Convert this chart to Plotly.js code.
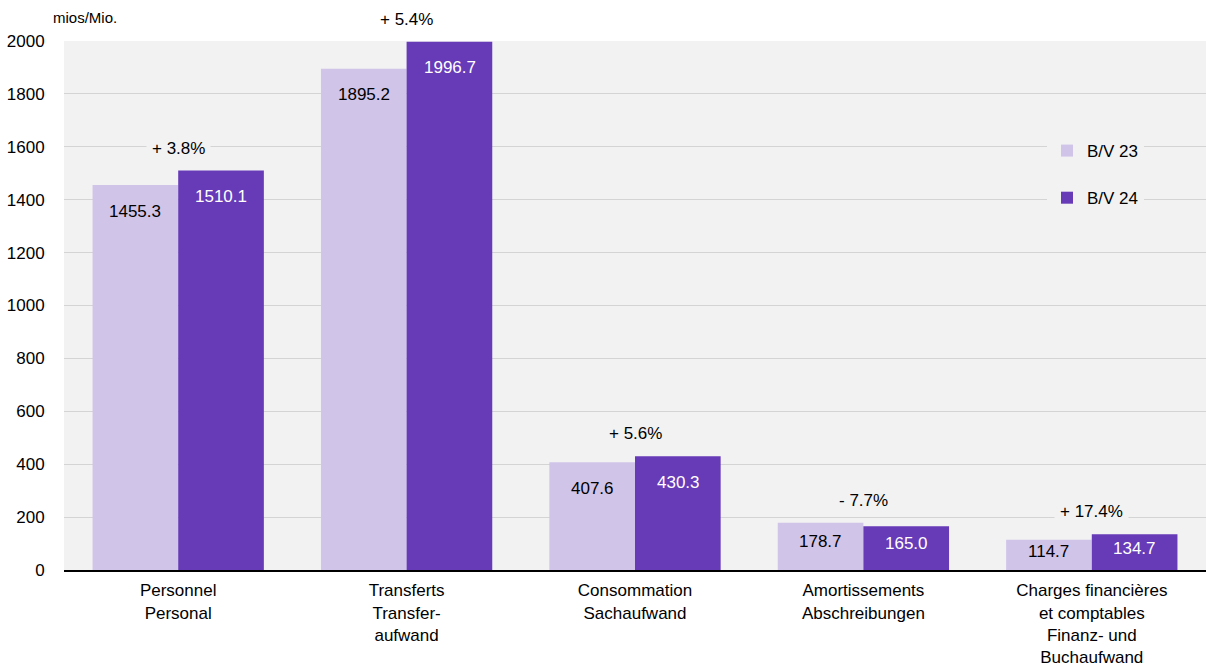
<!DOCTYPE html>
<html>
<head>
<meta charset="utf-8">
<script src="https://cdn.plot.ly/plotly-3.0.1.min.js"></script>
<style>html,body{margin:0;padding:0;background:#fff;}#chart{width:1206px;height:666px;}</style>
</head>
<body>
<div id="chart"></div>
<script>
var categories = [
  "Personnel<br>Personal",
  "Transferts<br>Transfer-<br>aufwand",
  "Consommation<br>Sachaufwand",
  "Amortissements<br>Abschreibungen",
  "Charges financières<br>et comptables<br>Finanz- und<br>Buchaufwand"
];
var bv23 = [1455.3, 1895.2, 407.6, 178.7, 114.7];
var bv24 = [1510.1, 1996.7, 430.3, 165.0, 134.7];
var changeLabels = ["+ 3.8%", "+ 5.4%", "+ 5.6%", "- 7.7%", "+ 17.4%"];
var seriesNames = ["B/V 23", "B/V 24"];
var yTicks = [0, 200, 400, 600, 800, 1000, 1200, 1400, 1600, 1800, 2000];

var FONT = "Liberation Sans, Arial, sans-serif";
var FS = 17;
var LIGHT = "#d1c4e9", DARK = "#673ab7", PLOTBG = "#f2f2f2";
var plotH = 529, yMax = 2000, pxPerUnit = plotH / yMax;

var traces = [
  {type: "bar", x: categories, y: bv23, name: seriesNames[0], legendgroup: "a",
   marker: {color: LIGHT}, hoverinfo: "none"},
  {type: "bar", x: categories, y: bv24, name: seriesNames[1], legendgroup: "b",
   marker: {color: DARK}, hoverinfo: "none"}
];

var annotations = [];
function valLabel(cat, v, shiftX, color) {
  var hpx = v * pxPerUnit;
  var off = Math.min(26, hpx * 0.4);
  return {x: cat, y: v, xref: "x", yref: "y", text: v.toFixed(1), showarrow: false,
          xshift: shiftX, yshift: -off, yanchor: "middle",
          font: {family: FONT, size: FS, color: color}};
}
for (var i = 0; i < categories.length; i++) {
  annotations.push(valLabel(categories[i], bv23[i], -43, "#000"));
  annotations.push(valLabel(categories[i], bv24[i], 43, "#fff"));
  var groupMax = Math.max(bv23[i], bv24[i]);
  annotations.push({x: categories[i], y: groupMax, xref: "x", yref: "y", text: changeLabels[i],
    showarrow: false, yanchor: "bottom", yshift: 7,
    bgcolor: groupMax >= yMax * 0.99 ? "rgba(0,0,0,0)" : PLOTBG,
    borderpad: 5, font: {family: FONT, size: FS, color: "#000"}});
}
annotations.push({x: (51 - 64) / 1142, y: (570 - 17) / 529, xref: "paper", yref: "paper",
  xanchor: "left", yanchor: "middle", text: "mios/Mio.", showarrow: false,
  font: {family: FONT, size: 15, color: "#000"}});

var layout = {
  width: 1206, height: 666,
  margin: {l: 64, r: 0, t: 41, b: 96, pad: 0},
  paper_bgcolor: "#ffffff", plot_bgcolor: PLOTBG,
  font: {family: FONT, size: FS, color: "#000"},
  barmode: "group", bargap: 0.25, bargroupgap: 0,
  showlegend: true,
  legend: {x: (1047 - 64) / 1142, y: 0.826, xanchor: "left", yanchor: "top", bgcolor: PLOTBG,
           traceorder: "grouped", tracegroupgap: 22, font: {family: FONT, size: FS, color: "#000"}},
  xaxis: {type: "category", showgrid: false, ticks: "outside", ticklen: 4, tickcolor: "rgba(0,0,0,0)",
          tickfont: {family: FONT, size: FS}, showline: true, linecolor: "#000", linewidth: 2},
  yaxis: {range: [0, yMax], tickvals: yTicks, ticktext: yTicks.map(String), showgrid: true,
          gridcolor: "#d4d4d4", gridwidth: 1, zeroline: false, showline: false,
          ticks: "outside", ticklen: 15, tickcolor: "rgba(0,0,0,0)",
          tickfont: {family: FONT, size: FS}},
  annotations: annotations
};

Plotly.newPlot("chart", traces, layout, {displayModeBar: false});
</script>
</body>
</html>
